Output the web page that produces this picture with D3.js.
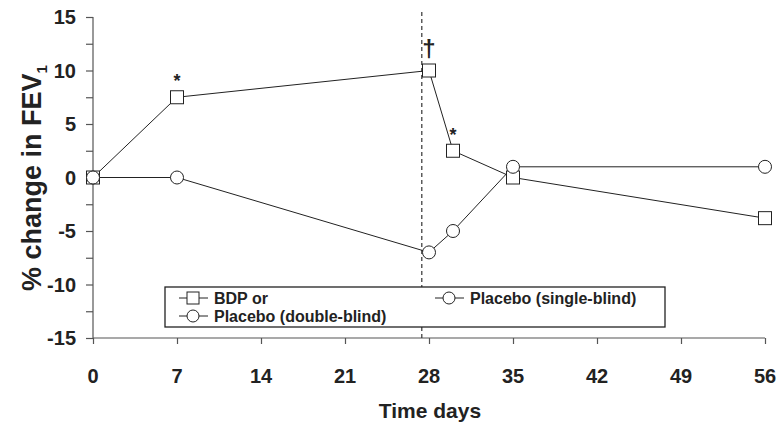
<!DOCTYPE html>
<html>
<head>
<meta charset="utf-8">
<script src="https://cdn.jsdelivr.net/npm/d3@7"></script>
<style>
  body { margin: 0; background: #fff; }
  svg { font-family: 'Liberation Sans', Arial, sans-serif; font-weight: bold; }
</style>
</head>
<body>
<svg id="chart" width="778" height="432"></svg>
<script>
const days = [0, 7, 28, 30, 35, 56];
const bdpValues = [0, 7.5, 10, 2.5, 0, -3.8];
const placeboValues = [0, 0, -7, -5, 1, 1];
const xTicks = [0, 7, 14, 21, 28, 35, 42, 49, 56];
const yTicks = [-15, -12.5, -10, -7.5, -5, -2.5, 0, 2.5, 5, 7.5, 10, 12.5, 15];
const yLabels = [-15, -10, -5, 0, 5, 10, 15];
const switchDay = 27.4;
const marks = [
  {day: 7, value: 7.5, text: '*'},
  {day: 30, value: 2.5, text: '*'},
  {day: 28, value: 10, text: '\u2020'}
];
const legendItems = [
  {label: 'BDP or', symbol: 'square', col: 0, row: 0},
  {label: 'Placebo (single-blind)', symbol: 'circle', col: 1, row: 0},
  {label: 'Placebo (double-blind)', symbol: 'circle', col: 0, row: 1}
];

const svg = d3.select('#chart');

const x = d3.scaleLinear().domain([0, 56]).range([93, 765]);
const y = d3.scaleLinear().domain([-15, 15]).range([338, 17]);

// axes
const yAxis = svg.append('g')
  .attr('transform', 'translate(93,0)')
  .call(d3.axisLeft(y).tickValues(yTicks).tickSize(7).tickFormat(''));
const xAxis = svg.append('g')
  .attr('transform', 'translate(0,338)')
  .call(d3.axisBottom(x).tickValues(xTicks).tickSize(6).tickFormat(''));
svg.selectAll('.domain').attr('stroke', '#555').attr('stroke-width', 1.2);
svg.selectAll('.tick line').attr('stroke', '#555').attr('stroke-width', 1.2);
yAxis.select('.domain').attr('d', `M0,${y(15)}V${y(-15)}`);
xAxis.select('.domain').attr('d', `M${x(0)},0H${x(56)}`);

svg.append('g')
  .selectAll('text')
  .data(yLabels)
  .enter()
  .append('text')
  .attr('x', 76)
  .attr('y', d => y(d) + 7)
  .attr('text-anchor', 'end')
  .attr('font-size', 20)
  .attr('fill', '#222')
  .text(d => d);

svg.append('g')
  .selectAll('text')
  .data(xTicks)
  .enter()
  .append('text')
  .attr('x', d => x(d))
  .attr('y', 383)
  .attr('text-anchor', 'middle')
  .attr('font-size', 20)
  .attr('fill', '#222')
  .text(d => d);

svg.append('text')
  .attr('x', 430)
  .attr('y', 418)
  .attr('text-anchor', 'middle')
  .attr('font-size', 21)
  .attr('fill', '#222')
  .text('Time days');

const yTitle = svg.append('text')
  .attr('transform', 'translate(41,178) rotate(-90)')
  .attr('text-anchor', 'middle')
  .attr('font-size', 27)
  .attr('fill', '#222');
yTitle.append('tspan').text('% change in FEV');
yTitle.append('tspan').attr('font-size', 15).attr('dy', 6).text('1');

// vertical dashed line at switch
svg.append('line')
  .attr('x1', x(switchDay)).attr('x2', x(switchDay))
  .attr('y1', 12).attr('y2', y(-15))
  .attr('stroke', '#333')
  .attr('stroke-width', 1.2)
  .attr('stroke-dasharray', '4,3');

const line = d3.line()
  .x(d => x(d[0]))
  .y(d => y(d[1]));

const bdp = days.map((d, i) => [d, bdpValues[i]]);
const placebo = days.map((d, i) => [d, placeboValues[i]]);

svg.append('path')
  .attr('d', line(bdp))
  .attr('fill', 'none')
  .attr('stroke', '#222')
  .attr('stroke-width', 1);
svg.append('path')
  .attr('d', line(placebo))
  .attr('fill', 'none')
  .attr('stroke', '#222')
  .attr('stroke-width', 1);

svg.append('g')
  .selectAll('rect')
  .data(bdp)
  .enter()
  .append('rect')
  .attr('x', d => x(d[0]) - 6.5)
  .attr('y', d => y(d[1]) - 6.5)
  .attr('width', 13)
  .attr('height', 13)
  .attr('fill', 'white')
  .attr('stroke', '#222')
  .attr('stroke-width', 1);

svg.append('g')
  .selectAll('circle')
  .data(placebo)
  .enter()
  .append('circle')
  .attr('cx', d => x(d[0]))
  .attr('cy', d => y(d[1]))
  .attr('r', 6.5)
  .attr('fill', 'white')
  .attr('stroke', '#222')
  .attr('stroke-width', 1);

// significance marks
svg.append('g')
  .selectAll('text')
  .data(marks)
  .enter()
  .append('text')
  .attr('x', d => x(d.day))
  .attr('y', d => d.text == '*' ? y(d.value) - 10 : y(d.value) - 14)
  .attr('text-anchor', 'middle')
  .attr('font-size', d => d.text == '*' ? 18 : 24)
  .attr('fill', '#222')
  .text(d => d.text);

// legend
const legend = svg.append('g').attr('transform', 'translate(165,287)');
legend.append('rect')
  .attr('width', 500)
  .attr('height', 40)
  .attr('fill', 'white')
  .attr('stroke', '#222')
  .attr('stroke-width', 1.3);

const item = legend.selectAll('g.item')
  .data(legendItems)
  .enter()
  .append('g')
  .classed('item', true)
  .attr('transform', d => `translate(${d.col * 256},${11 + d.row * 18})`);

item.append('line')
  .attr('x1', 14).attr('x2', 43)
  .attr('stroke', '#222').attr('stroke-width', 1);
item.filter(d => d.symbol == 'square').append('rect')
  .attr('x', 22).attr('y', -6).attr('width', 12).attr('height', 12)
  .attr('fill', 'white').attr('stroke', '#222');
item.filter(d => d.symbol == 'circle').append('circle')
  .attr('cx', 28).attr('r', 6)
  .attr('fill', 'white').attr('stroke', '#222');
item.append('text')
  .attr('x', 49)
  .attr('y', 6)
  .attr('font-size', 16)
  .attr('fill', '#222')
  .text(d => d.label);
</script>
</body>
</html>
